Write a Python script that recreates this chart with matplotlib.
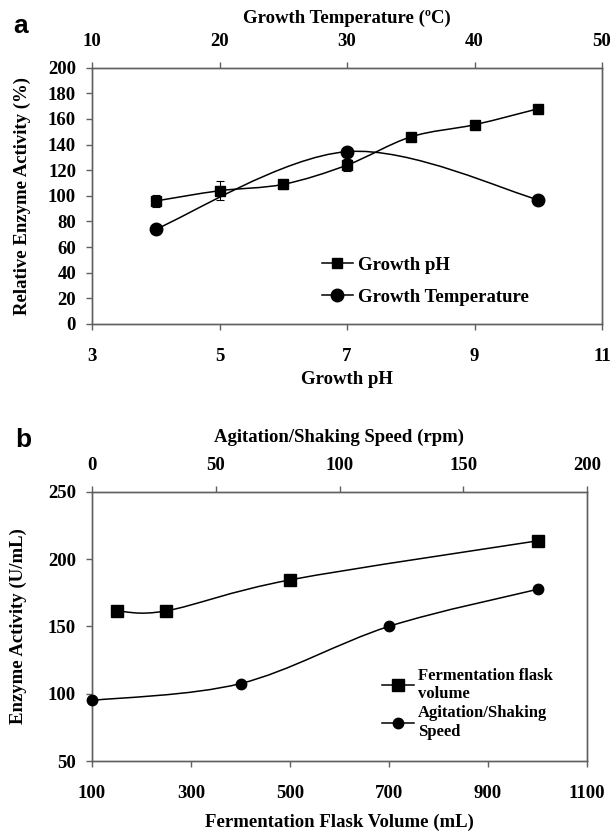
import matplotlib
matplotlib.use("Agg")
import matplotlib.pyplot as plt
from matplotlib.path import Path
from matplotlib.patches import PathPatch
from matplotlib.lines import Line2D

plt.rcParams["font.family"] = ["Liberation Serif", "DejaVu Serif"]
plt.rcParams["font.weight"] = "bold"
plt.rcParams["axes.labelweight"] = "bold"
plt.rcParams["font.size"] = 13.5

# Panel a data
ph = [4, 5, 6, 7, 8, 9, 10]
ph_activity = [96, 104, 109, 124, 146, 155.5, 168]
ph_err = [5, 7.5, 3.5, 4.5, 0, 0, 0]
temp = [15, 30, 45]
temp_activity = [74, 134.5, 97]

# Panel b data
volume = [150, 250, 500, 1000]
volume_activity = [161.5, 161.5, 184.5, 213.5]
volume_err = [0, 0, 4, 0]
speed = [0, 60, 120, 180]
speed_activity = [95, 107.5, 150, 177.5]

SPINE = "#606060"


# Excel-like smoothed line (Bezier through the points)
def smooth_line(ax, xs, ys, lw=1.1):
    pts = list(zip(xs, ys))
    n = len(pts)
    verts = [pts[0]]
    codes = [Path.MOVETO]
    for i in range(n - 1):
        p0 = pts[i - 1] if i > 0 else pts[i]
        p1 = pts[i]
        p2 = pts[i + 1]
        p3 = pts[i + 2] if i + 2 < n else pts[i + 1]
        c1 = (p1[0] + (p2[0] - p0[0]) / 6, p1[1] + (p2[1] - p0[1]) / 6)
        c2 = (p2[0] - (p3[0] - p1[0]) / 6, p2[1] - (p3[1] - p1[1]) / 6)
        verts += [c1, c2, p2]
        codes += [Path.CURVE4] * 3
    ax.add_patch(PathPatch(Path(verts, codes), fill=False, ec="black", lw=lw,
                           zorder=2))


def style_axes(ax, top=False):
    for s in ax.spines.values():
        s.set_color(SPINE)
        s.set_linewidth(1.0)
    ax.tick_params(direction="out", length=4.5, width=1.0, color=SPINE,
                   labelsize=13.5)
    ax.tick_params(axis="y", pad=7)
    if top:
        ax.tick_params(axis="x", top=True, bottom=False, labeltop=True,
                       labelbottom=False, pad=8)
    else:
        ax.tick_params(axis="x", pad=12.5)
        ax.tick_params(right=False, top=False)


fig = plt.figure(figsize=(6.12, 8.32), dpi=100)

# ---------- panel a ----------
ax1 = fig.add_axes([92 / 612, 1 - 324 / 832, 510 / 612, 256.3 / 832])
ax1.errorbar(ph, ph_activity, yerr=ph_err, fmt="none", ecolor="black",
             elinewidth=0.8, capsize=3, capthick=0.8, zorder=3)
smooth_line(ax1, ph, ph_activity)
ax1.plot(ph, ph_activity, ls="none", marker="s", ms=6.7, color="black",
         zorder=4)
ax1.set_xlim(3, 11)
ax1.set_ylim(0, 200)
ax1.set_xticks([3, 5, 7, 9, 11])
ax1.set_yticks(range(0, 201, 20))
ax1.set_xlabel("Growth pH", labelpad=4.5)
ax1.set_ylabel("Relative Enzyme Activity (%)", labelpad=12)
style_axes(ax1)

ax1t = ax1.twiny()
smooth_line(ax1t, temp, temp_activity)
ax1t.plot(temp, temp_activity, ls="none", marker="o", ms=9, color="black",
          zorder=4)
ax1t.set_xlim(10, 50)
ax1t.set_xticks([10, 20, 30, 40, 50])
ax1t.set_xlabel("Growth Temperature (ºC)", labelpad=7.5)
style_axes(ax1t, top=True)

handles_a = [Line2D([], [], color="black", lw=1.1, marker="s", ms=6.7),
             Line2D([], [], color="black", lw=1.1, marker="o", ms=9)]
ax1.legend(handles_a, ["Growth pH", "Growth Temperature"], loc="upper left",
           bbox_to_anchor=(0.451, 0.263), frameon=False, borderpad=0,
           borderaxespad=0, handlelength=1.65, handletextpad=0.25,
           fontsize=13.5, labelspacing=0.81)

fig.text(13 / 612, 1 - 33 / 832, "a", family="Liberation Sans",
         weight="bold", fontsize=19, va="baseline")

# ---------- panel b ----------
ax2 = fig.add_axes([92 / 612, 1 - 761 / 832, 495 / 612, 269.3 / 832])
ax2.errorbar(volume, volume_activity, yerr=volume_err, fmt="none",
             ecolor="black", elinewidth=0.8, capsize=3, capthick=0.8, zorder=3)
smooth_line(ax2, volume, volume_activity)
ax2.plot(volume, volume_activity, ls="none", marker="s", ms=8.7,
         color="black", zorder=4)
ax2.set_xlim(100, 1100)
ax2.set_ylim(50, 250)
ax2.set_xticks(range(100, 1101, 200))
ax2.set_yticks(range(50, 251, 50))
ax2.set_xlabel("Fermentation Flask Volume (mL)", labelpad=9)
ax2.set_ylabel("Enzyme Activity (U/mL)", labelpad=15)
style_axes(ax2)

ax2t = ax2.twiny()
smooth_line(ax2t, speed, speed_activity)
ax2t.plot(speed, speed_activity, ls="none", marker="o", ms=7.5,
          color="black", zorder=4, clip_on=False)
ax2t.set_xlim(0, 200)
ax2t.set_xticks(range(0, 201, 50))
ax2t.set_xlabel("Agitation/Shaking Speed (rpm)", labelpad=11)
style_axes(ax2t, top=True)

handles_b = [Line2D([], [], color="black", lw=1.1, marker="s", ms=8.7),
             Line2D([], [], color="black", lw=1.1, marker="o", ms=7.5)]
ax2.legend(handles_b, ["Fermentation flask\nvolume", "Agitation/Shaking\nSpeed"],
           loc="upper left", bbox_to_anchor=(0.586, 0.347), frameon=False,
           borderpad=0, borderaxespad=0, handlelength=1.9,
           handletextpad=0.25, fontsize=12, labelspacing=0.2)

fig.text(15 / 612, 1 - 447 / 832, "b", family="Liberation Sans",
         weight="bold", fontsize=19, va="baseline")

fig.savefig("out.png", dpi=100)
